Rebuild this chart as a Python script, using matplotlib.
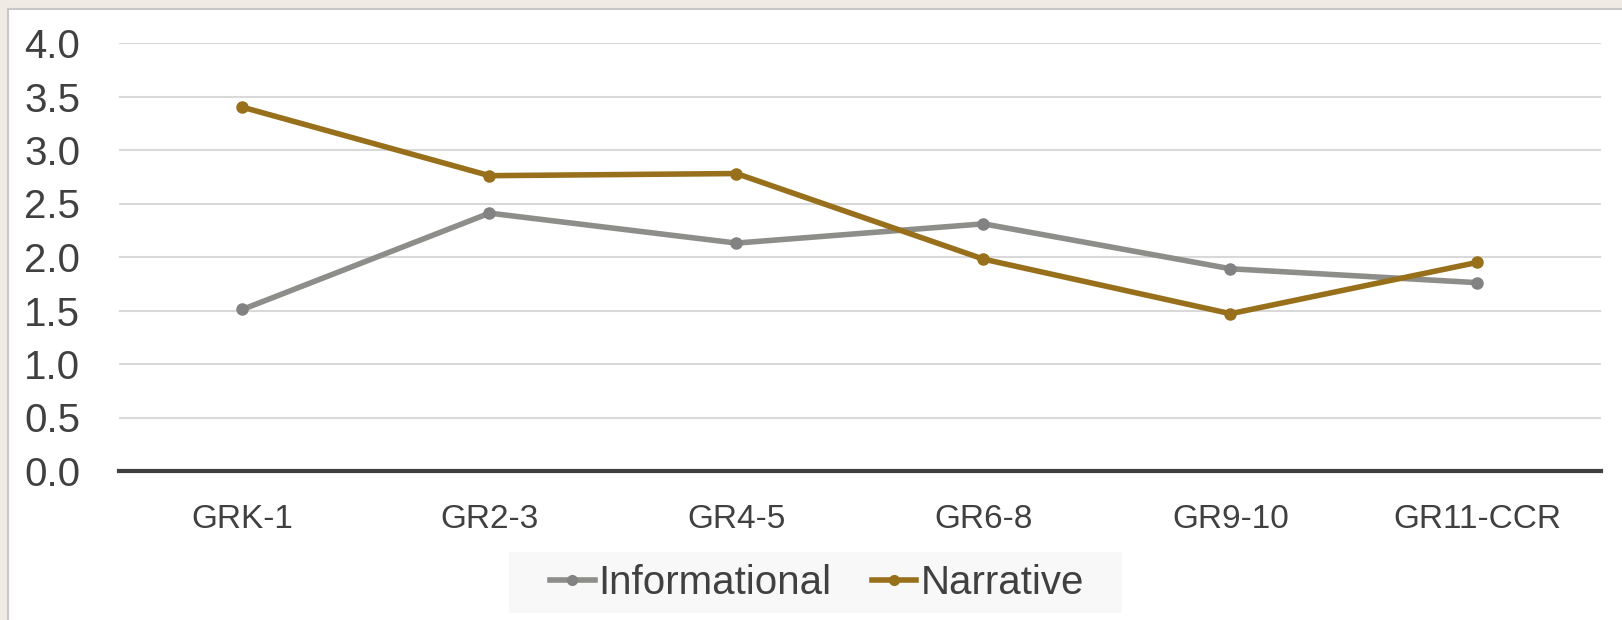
import matplotlib.pyplot as plt
from matplotlib.patches import Rectangle
from matplotlib.lines import Line2D

# datos
grados = ["GRK-1", "GR2-3", "GR4-5", "GR6-8", "GR9-10", "GR11-CCR"]
informational = [1.51, 2.41, 2.13, 2.31, 1.89, 1.76]
narrative = [3.40, 2.76, 2.78, 1.98, 1.47, 1.95]

color_info = "#8d8d89"
color_narr = "#98701c"
color_texto = "#404040"

W, H = 1622, 620
fig = plt.figure(figsize=(W / 100, H / 100), dpi=100)
fig.patch.set_facecolor("#efebe4")

# marco blanco con borde gris
marco = Rectangle((8 / W, -0.01), 1, (H - 9) / H + 0.01, transform=fig.transFigure,
                  facecolor="white", edgecolor="#c8c8c8", linewidth=1.5, zorder=-10)
fig.add_artist(marco)

# fondo de la leyenda
caja = Rectangle((509 / W, (H - 613) / H), (1122 - 509) / W, 61 / H,
                 transform=fig.transFigure, facecolor="#f8f8f8", edgecolor="none", zorder=-5)
fig.add_artist(caja)

ax = fig.add_axes([119 / W, (H - 471) / H, (1601 - 119) / W, (471 - 43) / H])
ax.set_facecolor("none")

x = list(range(len(grados)))
ax.plot(x, informational, color=color_info, linewidth=4, marker="o", markersize=8,
        markerfacecolor="#828282", markeredgecolor="#828282", zorder=3)
ax.plot(x, narrative, color=color_narr, linewidth=4, marker="o", markersize=8, zorder=4)

ax.set_xlim(-0.5, 5.5)
ax.set_ylim(0, 4.0)
ax.set_yticks([0, 0.5, 1.0, 1.5, 2.0, 2.5, 3.0, 3.5, 4.0])
ax.set_yticklabels([f"{v:.1f}" for v in ax.get_yticks()], fontsize=29,
                   family="Liberation Sans", color=color_texto)
ax.set_xticks(x)
ax.set_xticklabels(grados, fontsize=24, family="Liberation Sans", color=color_texto)
ax.tick_params(axis="both", length=0)
ax.tick_params(axis="y", pad=28)
ax.tick_params(axis="x", pad=24)

ax.grid(axis="y", color="#d9d9d9", linewidth=1.5)
ax.set_axisbelow(True)
for lado in ["top", "right", "left"]:
    ax.spines[lado].set_visible(False)
ax.spines["bottom"].set_color(color_texto)
ax.spines["bottom"].set_linewidth(3)
ax.spines["bottom"].set_zorder(5)

manejadores = [
    Line2D([], [], color=color_info, linewidth=4, marker="o", markersize=7,
           markerfacecolor="#828282", markeredgecolor="#828282"),
    Line2D([], [], color=color_narr, linewidth=4, marker="o", markersize=7),
]
leg = fig.legend(manejadores, ["Informational", "Narrative"], loc="center",
                 bbox_to_anchor=(817 / W, (H - 583) / H), ncol=2, frameon=False,
                 prop={"family": "Liberation Sans", "size": 29},
                 handlelength=1.1, handletextpad=0.1, columnspacing=1.0,
                 borderpad=0, borderaxespad=0)
for t in leg.get_texts():
    t.set_color(color_texto)

fig.savefig("out.png", dpi=100, facecolor=fig.get_facecolor())
